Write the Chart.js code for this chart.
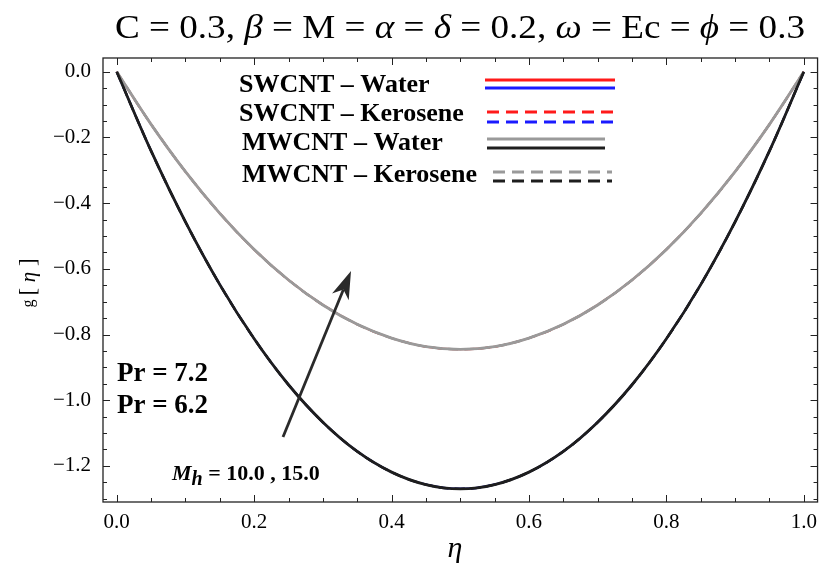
<!DOCTYPE html>
<html>
<head>
<meta charset="utf-8">
<script src="https://cdn.jsdelivr.net/npm/chart.js@4.4.1/dist/chart.umd.min.js"></script>
<style>
  html, body { margin: 0; padding: 0; background: #fff; }
  #wrap { width: 825px; height: 573px; }
</style>
</head>
<body>
<div id="wrap"><canvas id="gChart" width="825" height="573"></canvas></div>
<script>
// eta grid and g[eta] values
const eta = [0, 0.05, 0.1, 0.15, 0.2, 0.25, 0.3, 0.35, 0.4, 0.45, 0.5,
             0.55, 0.6, 0.65, 0.7, 0.75, 0.8, 0.85, 0.9, 0.95, 1.0];
// upper curve (red / gray)
const gTop = [0, -0.160, -0.304, -0.431, -0.541, -0.634, -0.710, -0.769, -0.811, -0.837, -0.845,
              -0.837, -0.811, -0.769, -0.710, -0.634, -0.541, -0.431, -0.304, -0.160, 0];
// lower curve (blue / black)
const gBottom = [0, -0.241, -0.457, -0.648, -0.813, -0.953, -1.067, -1.156, -1.219, -1.257, -1.270,
                 -1.257, -1.219, -1.156, -1.067, -0.953, -0.813, -0.648, -0.457, -0.241, 0];

const xTicks = [0, 0.2, 0.4, 0.6, 0.8, 1.0];
const yTicks = [0, -0.2, -0.4, -0.6, -0.8, -1.0, -1.2];
const minorStep = 0.05;

const legendRows = ['SWCNT \u2013 Water', 'SWCNT \u2013 Kerosene', 'MWCNT \u2013 Water', 'MWCNT \u2013 Kerosene'];
const prLabels = ['Pr = 7.2', 'Pr = 6.2'];

const RED = '#ff1a1a', BLUE = '#1a1aff', GRAY = '#9a9a9a', BLACK = '#1e1e1e';
const SERIF = '"Liberation Serif", "DejaVu Serif", serif';

function pts(vals) {
  return eta.map((x, i) => ({ x, y: vals[i] }));
}

// index 0 is drawn on top
const series = [
  { label: 'MWCNT - Water (b)', vals: gBottom, color: BLACK, dash: [], w: 2.8 },
  { label: 'MWCNT - Water (a)', vals: gTop, color: GRAY, dash: [], w: 2.8 },
  { label: 'MWCNT - Kerosene (b)', vals: gBottom, color: BLACK, dash: [10, 6], w: 2.4 },
  { label: 'MWCNT - Kerosene (a)', vals: gTop, color: GRAY, dash: [10, 6], w: 2.4 },
  { label: 'SWCNT - Kerosene (b)', vals: gBottom, color: BLUE, dash: [10, 6], w: 2.0 },
  { label: 'SWCNT - Kerosene (a)', vals: gTop, color: RED, dash: [10, 6], w: 2.0 },
  { label: 'SWCNT - Water (b)', vals: gBottom, color: BLUE, dash: [], w: 2.0 },
  { label: 'SWCNT - Water (a)', vals: gTop, color: RED, dash: [], w: 2.0 }
];

function drawText(ctx, parts, x, y, align, fitWidth) {
  // parts: [text, font, dy]
  let total = 0;
  parts.forEach(p => { ctx.font = p[1]; total += ctx.measureText(p[0]).width; });
  const sx = fitWidth ? fitWidth / total : 1;
  ctx.save();
  ctx.translate(align === 'center' ? x - total * sx / 2 : x, y);
  ctx.scale(sx, 1);
  let cx = 0;
  ctx.textAlign = 'left';
  parts.forEach(p => {
    ctx.font = p[1];
    ctx.fillText(p[0], cx, p[2] || 0);
    cx += ctx.measureText(p[0]).width;
  });
  ctx.restore();
}

const decorations = {
  id: 'decorations',
  afterDraw(chart) {
    const { ctx, chartArea: a, scales } = chart;
    const xs = scales.x, ys = scales.y;
    ctx.save();

    // frame
    ctx.strokeStyle = '#222';
    ctx.lineWidth = 1.3;
    ctx.strokeRect(a.left, a.top, a.right - a.left, a.bottom - a.top);

    // inward ticks on all four sides
    ctx.lineWidth = 1;
    for (let v = 0; v <= 1.0001; v += minorStep) {
      const major = Math.abs(v / 0.2 - Math.round(v / 0.2)) < 1e-6;
      const len = major ? 7 : 4;
      const px = Math.round(xs.getPixelForValue(v)) + 0.5;
      ctx.beginPath();
      ctx.moveTo(px, a.bottom); ctx.lineTo(px, a.bottom - len);
      ctx.moveTo(px, a.top); ctx.lineTo(px, a.top + len);
      ctx.stroke();
    }
    for (let v = 0; v >= -1.3001; v -= minorStep) {
      const major = Math.abs(v / 0.2 - Math.round(v / 0.2)) < 1e-6;
      const len = major ? 7 : 4;
      const py = Math.round(ys.getPixelForValue(v)) + 0.5;
      ctx.beginPath();
      ctx.moveTo(a.left, py); ctx.lineTo(a.left + len, py);
      ctx.moveTo(a.right, py); ctx.lineTo(a.right - len, py);
      ctx.stroke();
    }

    ctx.fillStyle = '#000';
    ctx.textBaseline = 'middle';

    // title
    const tf = '33px ' + SERIF, ti = 'italic 33px ' + SERIF;
    drawText(ctx, [
      ['C = 0.3, ', tf], ['\u03B2', ti], [' = M = ', tf], ['\u03B1', ti], [' = ', tf],
      ['\u03B4', ti], [' = 0.2, ', tf], ['\u03C9', ti], [' = Ec = ', tf], ['\u03D5', ti], [' = 0.3', tf]
    ], 460, 29, 'center', 690);

    // axis titles
    ctx.font = 'italic 30px ' + SERIF;
    ctx.textAlign = 'center';
    ctx.fillText('\u03B7', 455, 549);
    ctx.save();
    ctx.translate(29, 283);
    ctx.rotate(-Math.PI / 2);
    drawText(ctx, [['g ', '16px ' + SERIF], ['[ ', '23px ' + SERIF], ['\u03B7', 'italic 21px ' + SERIF], [' ]', '23px ' + SERIF]], 0, 0, 'center');
    ctx.restore();

    // legend
    const lf = 'bold 26px ' + SERIF;
    const rowsY = [85, 114, 143, 175];
    const lineY = [[80, 88], [112, 122], [139, 148], [172, 181]];
    const lineX = [[485, 615], [487, 620], [487, 605], [493, 612]];
    const colors = [[RED, BLUE], [RED, BLUE], [GRAY, BLACK], [GRAY, BLACK]];
    const dashed = [false, true, false, true];
    legendRows.forEach((t, i) => {
      drawText(ctx, [[t, lf]], i < 2 ? 239 : 242, rowsY[i], 'left');
      for (let k = 0; k < 2; k++) {
        ctx.strokeStyle = colors[i][k];
        ctx.lineWidth = 2.8;
        ctx.setLineDash(dashed[i] ? [12, 7] : []);
        ctx.beginPath();
        ctx.moveTo(lineX[i][0], lineY[i][k]);
        ctx.lineTo(lineX[i][1], lineY[i][k]);
        ctx.stroke();
      }
    });
    ctx.setLineDash([]);

    // Pr labels
    drawText(ctx, [[prLabels[0], 'bold 27px ' + SERIF]], 117, 374, 'left');
    drawText(ctx, [[prLabels[1], 'bold 27px ' + SERIF]], 117, 406, 'left');

    // M_h label
    drawText(ctx, [
      ['M', 'bold italic 22px ' + SERIF], ['h', 'bold italic 20px ' + SERIF, 6],
      [' = 10.0 , 15.0', 'bold 22px ' + SERIF]
    ], 172, 474, 'left');

    // arrow
    const x0 = 283, y0 = 437, x1 = 351, y1 = 271;
    const ang = Math.atan2(y1 - y0, x1 - x0);
    const c = Math.cos(ang), s = Math.sin(ang);
    ctx.strokeStyle = '#2a2a2a';
    ctx.fillStyle = '#2a2a2a';
    ctx.lineWidth = 2.8;
    ctx.beginPath();
    ctx.moveTo(x0, y0);
    ctx.lineTo(x1 - 20 * c, y1 - 20 * s);
    ctx.stroke();
    ctx.beginPath();
    ctx.moveTo(x1, y1);
    ctx.lineTo(x1 - 28 * c + 9 * s, y1 - 28 * s - 9 * c);
    ctx.lineTo(x1 - 20 * c, y1 - 20 * s);
    ctx.lineTo(x1 - 28 * c - 9 * s, y1 - 28 * s + 9 * c);
    ctx.closePath();
    ctx.fill();

    ctx.restore();
  }
};

const fmt = v => (v < -1e-9 ? '\u2212' : '') + Math.abs(v).toFixed(1);

new Chart(document.getElementById('gChart').getContext('2d'), {
  type: 'line',
  data: {
    datasets: series.map(s => ({
      label: s.label,
      data: pts(s.vals),
      borderColor: s.color,
      borderWidth: s.w,
      borderDash: s.dash,
      pointRadius: 0,
      tension: 0.35,
      fill: false
    }))
  },
  options: {
    responsive: false,
    animation: false,
    layout: { padding: { top: 58, right: 3, left: 0, bottom: 0 } },
    plugins: { legend: { display: false }, title: { display: false }, tooltip: { enabled: false } },
    scales: {
      x: {
        type: 'linear',
        min: -0.02,
        max: 1.02,
        afterBuildTicks: s => { s.ticks = xTicks.map(v => ({ value: v })); },
        afterFit: s => { s.height = 71; },
        grid: { display: false, drawTicks: false },
        border: { display: false },
        ticks: { padding: 8, color: '#000', font: { family: SERIF, size: 21 }, callback: fmt, maxRotation: 0 }
      },
      y: {
        type: 'linear',
        min: -1.31,
        max: 0.042,
        afterBuildTicks: s => { s.ticks = yTicks.map(v => ({ value: v })); },
        afterFit: s => { s.width = 103; },
        grid: { display: false, drawTicks: false },
        border: { display: false },
        ticks: { padding: 12, color: '#000', font: { family: SERIF, size: 21 }, callback: fmt }
      }
    }
  },
  plugins: [decorations]
});
</script>
</body>
</html>
